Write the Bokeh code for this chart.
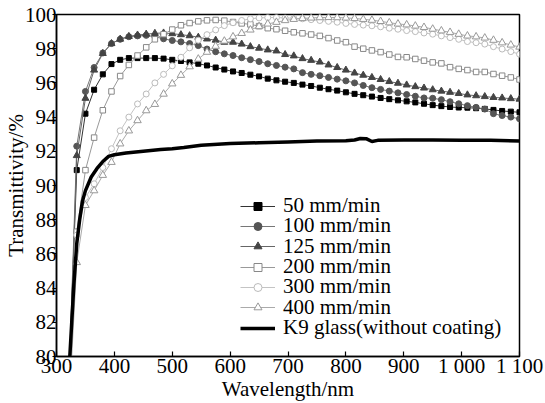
from bokeh.plotting import figure
from bokeh.models import Legend, LegendItem, FixedTicker, Range1d
from bokeh.embed import file_html
from bokeh.resources import INLINE

# ---- data ----
wavelength = [320, 335, 350, 365, 380, 395, 410, 425, 440, 455, 470, 485, 500, 515, 530, 545,
              560, 575, 590, 605, 620, 635, 650, 665, 680, 695, 710, 725, 740, 755, 770, 785,
              800, 815, 830, 845, 860, 875, 890, 905, 920, 935, 950, 965, 980, 995, 1010, 1025,
              1040, 1055, 1070, 1085, 1100]

s50 = [77.5, 90.9, 94.2, 95.6, 96.5, 97.1, 97.35, 97.45, 97.45, 97.45, 97.45, 97.42, 97.35, 97.28,
       97.2, 97.12, 97.02, 96.9, 96.78, 96.67, 96.58, 96.48, 96.38, 96.25, 96.15, 96.07, 96.0,
       95.9, 95.82, 95.72, 95.63, 95.55, 95.45, 95.36, 95.28, 95.2, 95.12, 95.05, 94.98, 94.92,
       94.86, 94.78, 94.7, 94.64, 94.59, 94.56, 94.55, 94.52, 94.48, 94.42, 94.36, 94.32, 94.28]

s100 = [77.0, 92.3, 95.5, 96.9, 97.75, 98.3, 98.55, 98.7, 98.75, 98.78, 98.7, 98.58, 98.48, 98.4,
        98.3, 98.18, 97.98, 97.82, 97.7, 97.6, 97.47, 97.36, 97.25, 97.12, 97.02, 96.92, 96.82,
        96.6, 96.5, 96.42, 96.32, 96.22, 96.12, 96.0, 95.85, 95.72, 95.62, 95.52, 95.42, 95.32,
        95.22, 95.12, 95.1, 95.02, 94.9, 94.78, 94.67, 94.57, 94.47, 94.2, 94.09, 94.0, 93.9]

s125 = [76.5, 91.75, 95.1, 96.75, 97.72, 98.3, 98.56, 98.72, 98.8, 98.85, 98.9, 98.92, 98.88,
        98.82, 98.76, 98.67, 98.57, 98.5, 98.38, 98.38, 98.27, 98.12, 98.03, 97.93, 97.87, 97.66,
        97.58, 97.42, 97.32, 97.22, 97.05, 96.9, 96.75, 96.58, 96.45, 96.32, 96.2, 96.08, 95.98,
        95.88, 95.78, 95.7, 95.6, 95.52, 95.45, 95.38, 95.3, 95.25, 95.2, 95.15, 95.12, 95.08, 95.05]

s200 = [76.0, 87.3, 90.9, 92.8, 94.4, 95.5, 96.4, 97.05, 97.6, 98.08, 98.55, 98.85, 99.12, 99.37,
        99.5, 99.6, 99.66, 99.68, 99.64, 99.56, 99.48, 99.42, 99.32, 99.2, 99.14, 99.05, 98.96,
        98.9, 98.83, 98.75, 98.62, 98.48, 98.38, 98.12, 98.0, 97.9, 97.8, 97.66, 97.52, 97.5,
        97.4, 97.3, 97.2, 97.14, 96.92, 96.82, 96.75, 96.64, 96.64, 96.52, 96.42, 96.32, 96.2]

s300 = [76.5, 87.1, 89.3, 90.1, 91.05, 92.15, 93.2, 94.0, 94.77, 95.35, 96.0, 96.5, 97.0, 97.5,
        98.05, 98.5, 98.82, 99.1, 99.35, 99.52, 99.65, 99.75, 99.8, 99.82, 99.82, 99.8, 99.78,
        99.75, 99.7, 99.65, 99.6, 99.55, 99.48, 99.42, 99.38, 99.34, 99.28, 99.2, 99.14, 99.06,
        99.0, 98.92, 98.85, 98.75, 98.65, 98.55, 98.42, 98.35, 98.27, 98.12, 97.98, 97.83, 97.68]

s400 = [76.0, 85.5, 88.84, 89.7, 90.6, 91.36, 92.44, 93.2, 93.8, 94.38, 94.75, 95.35, 95.95,
        96.45, 96.95, 97.4, 97.8, 98.15, 98.45, 98.7, 98.9, 99.1, 99.3, 99.45, 99.55, 99.65,
        99.72, 99.77, 99.8, 99.82, 99.83, 99.82, 99.8, 99.77, 99.72, 99.67, 99.6, 99.52, 99.45,
        99.4, 99.33, 99.25, 99.15, 99.05, 98.96, 98.85, 98.75, 98.7, 98.63, 98.5, 98.35, 98.22, 98.1]

k9_wavelength = [320, 325, 330, 335, 340, 345, 350, 360, 370, 380, 390, 400, 420, 450, 480, 500,
                 520, 550, 600, 650, 700, 750, 800, 815, 825, 835, 845, 855, 900, 950, 1000,
                 1050, 1100]
k9 = [78.2, 81.2, 84.2, 86.6, 88.0, 89.1, 89.7, 90.5, 91.0, 91.4, 91.7, 91.8, 91.9, 92.0, 92.1,
      92.15, 92.22, 92.35, 92.45, 92.5, 92.55, 92.6, 92.62, 92.66, 92.75, 92.74, 92.57, 92.64,
      92.66, 92.66, 92.65, 92.65, 92.6]

series_labels = ["50 mm/min", "100 mm/min", "125 mm/min", "200 mm/min", "300 mm/min", "400 mm/min"]
k9_label = "K9 glass(without coating)"
x_ticks = [300, 400, 500, 600, 700, 800, 900, 1000, 1100]
y_ticks = [80, 82, 84, 86, 88, 90, 92, 94, 96, 98, 100]
x_title = "Wavelength/nm"
y_title = "Transmittivity/%"

FONT = "Liberation Serif"
FS = "21px"

p = figure(width=545, height=403, output_backend="svg", toolbar_location=None,
           x_range=Range1d(300, 1100), y_range=Range1d(80, 100),
           min_border_left=56, min_border_right=26, min_border_top=14, min_border_bottom=46)

p.xgrid.visible = False
p.ygrid.visible = False
p.outline_line_color = "black"
p.outline_line_width = 1.5

p.xaxis.ticker = FixedTicker(ticks=x_ticks)
p.xaxis.major_label_overrides = {1000: "1 000", 1100: "1 100"}
p.yaxis.ticker = FixedTicker(ticks=y_ticks)
for ax in (p.xaxis[0], p.yaxis[0]):
    ax.axis_line_color = "black"
    ax.axis_line_width = 1.5
    ax.major_tick_line_color = "black"
    ax.major_tick_line_width = 1.2
    ax.minor_tick_line_color = None
    ax.major_label_text_font = FONT
    ax.major_label_text_font_size = FS
    ax.major_label_text_color = "black"
    ax.axis_label_text_font = FONT
    ax.axis_label_text_font_size = FS
    ax.axis_label_text_font_style = "normal"
    ax.axis_label_text_color = "black"
p.xaxis.major_tick_in = 5
p.xaxis.major_tick_out = 0
p.xaxis.major_label_standoff = -3
p.yaxis.major_tick_in = 0
p.yaxis.major_tick_out = 4
p.yaxis.major_label_standoff = -4
p.xaxis.axis_label = x_title
p.xaxis.axis_label_standoff = -4
p.yaxis.axis_label = y_title
p.yaxis.axis_label_standoff = -6

styles = [
    dict(marker="square", size=5, fill="black", edge="black", line="#333333"),
    dict(marker="circle", size=6, fill="#555555", edge="#555555", line="#777777"),
    dict(marker="triangle", size=7, fill="#444444", edge="#444444", line="#666666"),
    dict(marker="square", size=5.5, fill="white", edge="#888888", line="#999999"),
    dict(marker="circle", size=6, fill="white", edge="#bbbbbb", line="#c4c4c4"),
    dict(marker="triangle", size=7.5, fill="white", edge="#999999", line="#aaaaaa"),
]
data = [s50, s100, s125, s200, s300, s400]

items = []
for lab, ys, st in zip(series_labels, data, styles):
    lr = p.line(wavelength, ys, line_color=st["line"], line_width=1)
    sr = p.scatter(wavelength, ys, marker=st["marker"], size=st["size"],
                   fill_color=st["fill"], line_color=st["edge"], line_width=1)
    items.append(LegendItem(label=lab, renderers=[lr, sr]))

kr = p.line(k9_wavelength, k9, line_color="black", line_width=3.5)
items.append(LegendItem(label=k9_label, renderers=[kr]))

# one single-row legend per entry so the row pitch can match the reference
row_pitch = 20.33
for i, it in enumerate(items):
    lg = Legend(items=[it], location=(184, 16 + (6 - i) * row_pitch), padding=0, margin=0,
                spacing=0, glyph_width=35, glyph_height=20, label_height=20, label_standoff=8,
                border_line_color=None, background_fill_alpha=0,
                label_text_font=FONT, label_text_font_size=FS, label_text_color="black")
    p.add_layout(lg)

open("out.html", "w").write(file_html(p, INLINE))
